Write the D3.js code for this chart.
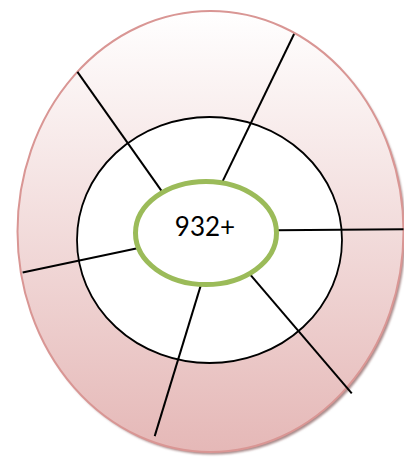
<!DOCTYPE html>
<html>
<head>
<meta charset="utf-8">
<script src="https://cdn.jsdelivr.net/npm/d3@7"></script>
<style>
  html, body { margin: 0; padding: 0; background: #fff; overflow: hidden; }
</style>
</head>
<body>
<script>
var width = 404, height = 457;

// centre label
var label = "932+";

// spokes: angle where they leave the green ring, angle where they stop near the outer ring,
// and how far they go relative to the outer ring (1 = on the ring)
var spokeStart = [-128, -77, -3, 52, 94, 163];
var spokeEnd = [-133.6, -64.2, -0.6, 45.1, 107.3, 169.2];
var spokeReach = [1.0, 0.995, 1.0, 1.037, 0.972, 0.991];

var svg = d3.select("body")
    .append("svg")
    .attr("width", width)
    .attr("height", height);

var defs = svg.append("defs");

// vertical gradient white -> pink
var grad = defs.append("linearGradient")
    .attr("id", "pinkGrad")
    .attr("x1", 0).attr("y1", 0).attr("x2", 0).attr("y2", 1);
grad.append("stop").attr("offset", "0%").attr("stop-color", "#ffffff");
grad.append("stop").attr("offset", "100%").attr("stop-color", "#e5b8b7");

var blur = defs.append("filter").attr("id", "soft")
    .attr("x", "-10%").attr("y", "-10%").attr("width", "120%").attr("height", "120%");
blur.append("feGaussianBlur").attr("stdDeviation", 1.2);

// the three ellipses
var outer = {cx: 210.5, cy: 231.5, rx: 193, ry: 220.5};
var middle = {cx: 209.5, cy: 240, rx: 132.5, ry: 123};
var ring = {cx: 206, cy: 233, rx: 70.5, ry: 51.5};

// radial factor -> point on an ellipse
var reach = d3.scaleLinear().domain([0, 1]).range([0, 1]);
function onEllipse(e, deg, k) {
    var a = deg * Math.PI / 180;
    var f = reach(k);
    return [e.cx + Math.cos(a) * e.rx * f, e.cy + Math.sin(a) * e.ry * f];
}

var g = svg.append("g");

// shadow of outer ellipse
g.append("ellipse")
    .attr("cx", outer.cx + 2).attr("cy", outer.cy + 2.5)
    .attr("rx", outer.rx).attr("ry", outer.ry)
    .attr("fill", "#a98a8a")
    .attr("filter", "url(#soft)");

g.append("ellipse")
    .attr("cx", outer.cx).attr("cy", outer.cy)
    .attr("rx", outer.rx).attr("ry", outer.ry)
    .attr("fill", "url(#pinkGrad)")
    .attr("stroke", "#d99694")
    .attr("stroke-width", 2);

g.append("ellipse")
    .attr("cx", middle.cx).attr("cy", middle.cy)
    .attr("rx", middle.rx).attr("ry", middle.ry)
    .attr("fill", "#ffffff")
    .attr("stroke", "#000")
    .attr("stroke-width", 1.8);

var spokes = spokeStart.map(function(s, i) {
    return {from: onEllipse(ring, s, 1), to: onEllipse(outer, spokeEnd[i], spokeReach[i])};
});

g.selectAll("line.spoke")
    .data(spokes)
    .enter()
    .append("line")
    .attr("class", "spoke")
    .attr("x1", function(d) { return d.from[0]; })
    .attr("y1", function(d) { return d.from[1]; })
    .attr("x2", function(d) { return d.to[0]; })
    .attr("y2", function(d) { return d.to[1]; })
    .attr("stroke", "#000")
    .attr("stroke-width", 2);

g.append("ellipse")
    .attr("cx", ring.cx).attr("cy", ring.cy)
    .attr("rx", ring.rx).attr("ry", ring.ry)
    .attr("fill", "#ffffff")
    .attr("stroke", "#9bbb59")
    .attr("stroke-width", 5);

g.append("text")
    .attr("x", 205)
    .attr("y", 236)
    .attr("text-anchor", "middle")
    .style("font-family", "Lato, 'Open Sans', sans-serif")
    .style("font-size", "26px")
    .attr("fill", "#000")
    .text(label);
</script>
</body>
</html>
